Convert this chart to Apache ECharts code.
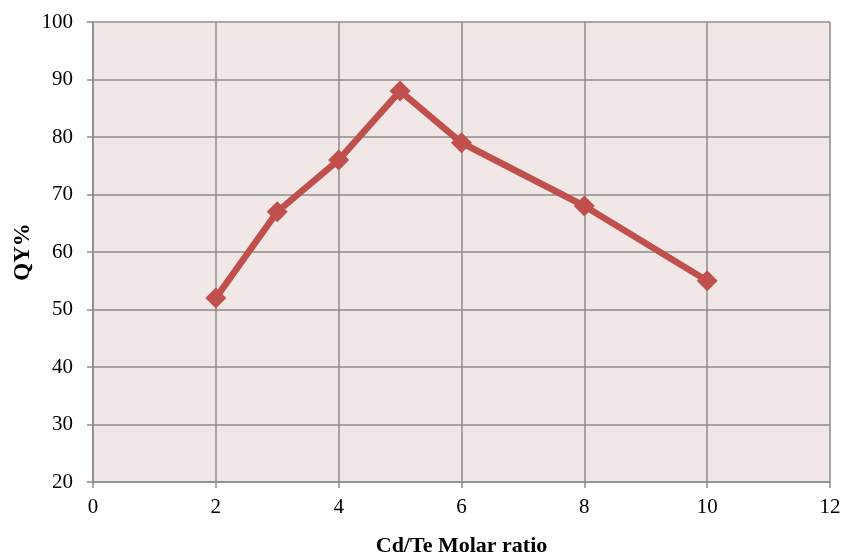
<!DOCTYPE html>
<html>
<head>
<meta charset="utf-8">
<script src="https://cdn.jsdelivr.net/npm/echarts@6/dist/echarts.min.js"></script>
<style>
html,body{margin:0;padding:0;background:#fff;}
#chart{width:844px;height:555px;}
</style>
</head>
<body>
<div id="chart"></div>
<script>
// Quantum yield versus Cd/Te molar ratio
const molarRatio = [2, 3, 4, 5, 6, 8, 10];
const qyPercent = [52, 67, 76, 88, 79, 68, 55];
const xTicks = [0, 2, 4, 6, 8, 10, 12];
const yTicks = [20, 30, 40, 50, 60, 70, 80, 90, 100];

const font = '"Liberation Serif", "Times New Roman", serif';
const gridColor = '#8c8c8c';

const chart = echarts.init(document.getElementById('chart'));
chart.setOption({
  animation: false,
  backgroundColor: '#ffffff',
  grid: {
    left: 93, right: 14, top: 22, bottom: 73,
    containLabel: false, outerBoundsMode: 'none',
    show: true, backgroundColor: '#f2e7e7', borderWidth: 0
  },
  xAxis: {
    type: 'value',
    min: xTicks[0], max: xTicks[xTicks.length - 1], interval: 2,
    name: 'Cd/Te Molar ratio', nameLocation: 'middle', nameGap: 53,
    nameMoveOverlap: false,
    nameTextStyle: { fontFamily: font, fontSize: 22, fontWeight: 'bold', color: '#000' },
    axisLine: { show: true, lineStyle: { color: gridColor, width: 1.5 } },
    axisTick: { show: true, length: 6, lineStyle: { color: gridColor, width: 1.5 } },
    axisLabel: { fontFamily: font, fontSize: 21, color: '#000', margin: 15 },
    splitLine: { show: true, lineStyle: { color: gridColor, width: 1.5 } }
  },
  yAxis: {
    type: 'value',
    min: yTicks[0], max: yTicks[yTicks.length - 1], interval: 10,
    name: 'QY%', nameLocation: 'middle', nameGap: 58,
    nameMoveOverlap: false,
    nameTextStyle: { fontFamily: font, fontSize: 23, fontWeight: 'bold', color: '#000' },
    axisLine: { show: true, lineStyle: { color: gridColor, width: 1.5 } },
    axisTick: { show: true, length: 6, lineStyle: { color: gridColor, width: 1.5 } },
    axisLabel: { fontFamily: font, fontSize: 21, color: '#000', margin: 20 },
    splitLine: { show: true, lineStyle: { color: gridColor, width: 1.5 } }
  },
  series: [{
    type: 'line',
    data: molarRatio.map((x, i) => [x, qyPercent[i]]),
    symbol: 'diamond',
    symbolSize: 21,
    showAllSymbol: true,
    lineStyle: { color: '#c0504d', width: 6.5 },
    itemStyle: { color: '#c0504d', borderWidth: 0 },
    z: 5
  }]
});
</script>
</body>
</html>
